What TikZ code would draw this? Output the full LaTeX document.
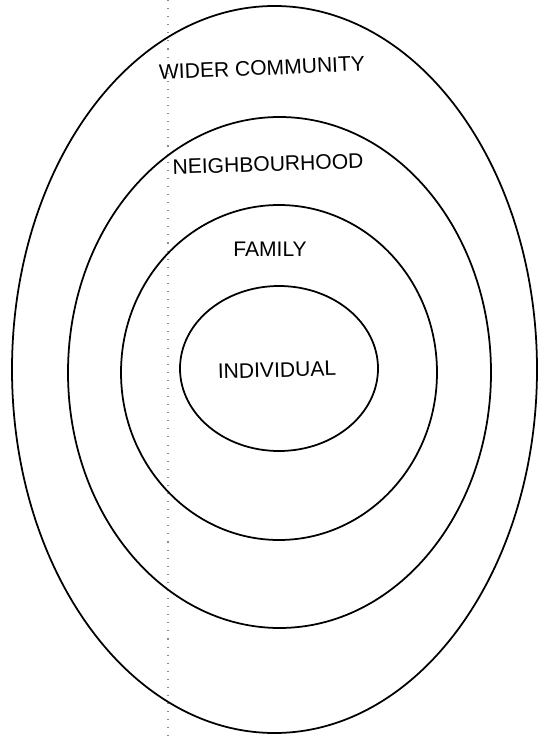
\documentclass[tikz,border=0pt]{standalone}
\usepackage{fontspec}
\setmainfont{Liberation Sans}
\usetikzlibrary{positioning}
\tikzset{
  ring/.style={draw=black,line width=1pt},
  lbl/.style={font=\fontsize{12}{14}\selectfont,text=black,inner sep=0pt},
  fold/.style={draw=black!45,line width=0.6pt,dash pattern=on 0.6pt off 4pt},
}
\begin{document}
\begin{tikzpicture}[x=0.02cm,y=-0.02cm]
  \useasboundingbox (0,0) rectangle (540,736);
  % scan fold
  \coordinate (foldtop) at (168,0);
  \coordinate (foldbot) at (168,736);
  \draw[fold] (foldtop) -- (foldbot);
  % nested circles of influence
  \foreach \cx/\cy/\rx/\ry in {274.5/369.5/262.5/363.5,279.5/372.5/211.5/255.5,
      279/372.5/158/167.5,279/368.5/99/82.5}{
    \draw[ring] (\cx,\cy) ellipse [x radius=\rx, y radius=\ry];
  }
  \node[lbl,rotate=2.5] (wider) at (262,68) {WIDER COMMUNITY};
  \node[lbl,rotate=1.8] (neigh) at (268,164) {NEIGHBOURHOOD};
  \node[lbl] (family) at (270,249) {FAMILY};
  \node[lbl,rotate=1.5] (indiv) at (277,370) {INDIVIDUAL};
\end{tikzpicture}
\end{document}
